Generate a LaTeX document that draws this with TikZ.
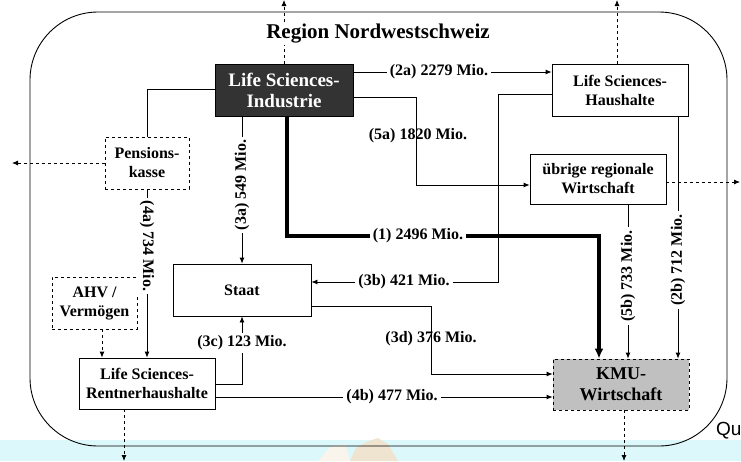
\documentclass[tikz,border=0pt]{standalone}
\usepackage{fontspec}
\setmainfont{Liberation Serif}
\newfontfamily\qufont{Liberation Sans}
\usetikzlibrary{arrows.meta}
\definecolor{band}{HTML}{DCF8FA}
\definecolor{darkbox}{HTML}{333333}
\definecolor{kmugray}{HTML}{C0C0C0}
\definecolor{beigeart}{HTML}{EFE4CF}
\tikzset{
  box/.style={draw, fill=white, line width=0.8pt, align=center, inner sep=0pt,
    font=\bfseries\fontsize{16}{19}\selectfont},
  dbox/.style={box, dashed},
  lbl/.style={font=\bfseries\fontsize{16}{19}\selectfont, inner sep=3pt},
  wlbl/.style={lbl, fill=white},
  conn/.style={line width=0.8pt},
  arr/.style={conn, -{Latex[length=6pt,width=5pt]}},
  darr/.style={arr, dashed},
  thickarr/.style={line width=3.2pt, -{Latex[length=10pt,width=9pt]}},
}
\begin{document}
\begin{tikzpicture}[x=1pt,y=-1pt]
\useasboundingbox (0,0) rectangle (741,461);
% background band
\fill[band] (0,440) rectangle (741,461);
\fill[fill=beigeart] (350,461) -- (356,448) -- (366,442) -- (378,438) -- (388,444) -- (398,461) -- cycle;
\fill[fill=beigeart!40!white] (318,461) -- (330,447) -- (345,444) -- (350,461) -- cycle;
% outer region
\draw[line width=0.9pt, rounded corners=68pt] (30,12) rectangle (727,446);
\node[anchor=west, font=\qufont\fontsize{19}{21}\selectfont, inner sep=0pt] (qu) at (716,431) {Qu};

% boxes
\node[box, fill=darkbox, text=white, minimum width=138pt, minimum height=52pt,
  font=\bfseries\fontsize{19}{21}\selectfont] (ind) at (284,90) {Life Sciences-\\Industrie};
\node[dbox, minimum width=84pt, minimum height=52pt] (pk) at (147,163) {Pensions-\\kasse};
\node[box, minimum width=136pt, minimum height=52pt] (hh) at (620,90) {Life Sciences-\\Haushalte};
\node[box, minimum width=136pt, minimum height=50pt] (ub) at (598,179) {übrige regionale\\Wirtschaft};
\node[box, minimum width=138pt, minimum height=52pt] (st) at (242,290) {Staat};
\node[dbox, minimum width=85pt, minimum height=52pt] (ahv) at (94.5,303) {AHV /\\Vermögen};
\node[box, minimum width=136pt, minimum height=51pt] (rh) at (147,383.5) {Life Sciences-\\Rentnerhaushalte};
\node[dbox, fill=kmugray, minimum width=136pt, minimum height=51pt,
  font=\bfseries\fontsize{18}{21}\selectfont] (kmu) at (621,384.5) {KMU-\\Wirtschaft};

% outflows (dashed)
\coordinate (outtop1) at (284,0);
\coordinate (outtop2) at (617,0);
\coordinate (outleft) at (12,163);
\coordinate (outright) at (740,182);
\coordinate (outbot1) at (124,461);
\coordinate (outbot2) at (624,461);
\draw[darr] (ind.north) -- (outtop1);
\draw[darr] (hh.north -| outtop2) -- (outtop2);
\draw[darr] (pk.west) -- (outleft);
\draw[darr] (ub.east |- outright) -- (outright);
\draw[darr] (rh.south -| outbot1) -- (outbot1);
\draw[darr] (kmu.south -| outbot2) -- (outbot2);
\draw[darr] (ahv.south -| 102,0) -- (rh.north -| 102,0);

% title
\node[fill=white, inner sep=1pt, font=\bfseries\fontsize{21}{24}\selectfont] (title) at (378,34) {Region Nordwestschweiz};

% flows
\draw[conn] (ind.west |- 0,89) -| (pk.north);
\draw[arr] (ind.east |- 0,72) -- (hh.west |- 0,72);
\node[wlbl] (l2a) at (439,72) {(2a) 2279 Mio.};

\draw[arr] (ind.east |- 0,97) -- (416,97) |- (ub.west |- 0,185);
\node[lbl] (l5a) at (418,136) {(5a) 1820 Mio.};

\draw[arr] (ind.south -| st.north) -- (st.north);
\node[wlbl, rotate=90] (l3a) at (242,185) {(3a) 549 Mio.};

\draw[arr] (pk.south) -- (rh.north);
\node[wlbl, rotate=-90] (l4a) at (147,246) {(4a) 734 Mio.};

\draw[arr] (hh.west |- 0,94) -- (498,94) |- (st.east |- 0,282);

\draw[thickarr] (ind.south -| 287,0) -- (287,236) -- (599,236) -- (kmu.north -| 599,0);
\node[wlbl] (l1) at (418,236) {(1) 2496 Mio.};
\node[wlbl] (l3b) at (404,282) {(3b) 421 Mio.};

\draw[arr] (rh.east |- 0,384) -| (st.south);
\node[wlbl] (l3c) at (242,343) {(3c) 123 Mio.};

\draw[arr] (rh.east |- 0,397) -- (kmu.west |- 0,397);
\node[wlbl] (l4b) at (392,397) {(4b) 477 Mio.};

\draw[arr] (st.east |- 0,306) -- (431,306) |- (kmu.west |- 0,374);
\node[lbl] (l3d) at (431,339) {(3d) 376 Mio.};

\draw[arr] (hh.south -| 678,0) -- (kmu.north -| 678,0);
\node[wlbl, rotate=90] (l2b) at (678,260) {(2b) 712 Mio.};

\draw[arr] (ub.south -| 628,0) -- (kmu.north -| 628,0);
\node[wlbl, rotate=90] (l5b) at (628,276) {(5b) 733 Mio.};
\end{tikzpicture}
\end{document}
